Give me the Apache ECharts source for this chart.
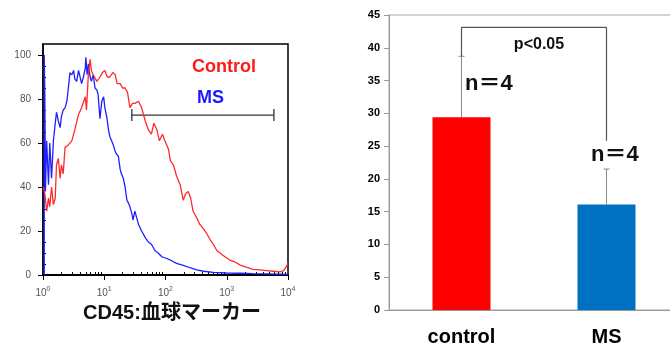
<!DOCTYPE html>
<html>
<head>
<meta charset="utf-8">
<script src="https://cdn.jsdelivr.net/npm/echarts@6/dist/echarts.min.js"></script>
<style>
  html, body { margin: 0; padding: 0; background: #fff; }
  #chart { width: 670px; height: 353px; }
</style>
</head>
<body>
<div id="chart"></div>
<script>
// ---- left panel: CD45 histogram (x = log10 intensity) ----
const redLog = [
  0.00, 0.03, 0.06, 0.09, 0.11, 0.14, 0.17, 0.20, 0.22, 0.25,
  0.28, 0.30, 0.33, 0.36, 0.41, 0.47, 0.52, 0.58, 0.63, 0.69,
  0.71, 0.74, 0.77, 0.79, 0.82, 0.88, 0.93, 0.97, 1.01, 1.05,
  1.09, 1.14, 1.18, 1.21, 1.26, 1.30, 1.34, 1.38, 1.42, 1.46,
  1.50, 1.56, 1.61, 1.67, 1.72, 1.77, 1.81, 1.86, 1.90, 1.95,
  1.99, 2.05, 2.08, 2.13, 2.18, 2.24, 2.29, 2.33, 2.37, 2.41,
  2.45, 2.51, 2.56, 2.62, 2.67, 2.73, 2.78, 2.84, 2.89, 2.97,
  3.05, 3.13, 3.22, 3.33, 3.43, 3.54, 3.65, 3.76, 3.87, 3.93,
  3.98, 4.00
];
const redCount = [
  40, 37, 29, 35, 31, 40, 32, 35, 50, 53,
  44, 50, 46, 58, 59, 61, 66, 73, 76, 81,
  75, 91, 98, 93, 91, 88, 90, 92, 93, 90,
  90, 92, 91, 87, 87, 85, 85, 83, 76, 78,
  78, 79, 76, 70, 66, 64, 69, 66, 61, 64,
  61, 57, 52, 50, 45, 41, 34, 37, 38, 35,
  29, 26, 23, 21, 19, 16, 14, 11, 10, 8.3,
  6.8, 6.0, 4.5, 3.5, 2.6, 2.3, 2.0, 1.7, 1.4, 2.0,
  4.1, 5.5
];
const blueLog = [
  0.02, 0.02, 0.03, 0.04, 0.06, 0.09, 0.11, 0.14, 0.17, 0.20,
  0.22, 0.25, 0.28, 0.30, 0.33, 0.36, 0.39, 0.41, 0.44, 0.47,
  0.50, 0.52, 0.55, 0.58, 0.60, 0.63, 0.66, 0.69, 0.70, 0.72,
  0.74, 0.77, 0.79, 0.82, 0.85, 0.88, 0.90, 0.93, 0.96, 0.99,
  1.01, 1.04, 1.07, 1.09, 1.12, 1.15, 1.18, 1.20, 1.23, 1.26,
  1.28, 1.31, 1.34, 1.37, 1.39, 1.42, 1.45, 1.47, 1.50, 1.53,
  1.56, 1.61, 1.67, 1.72, 1.77, 1.83, 1.88, 1.94, 2.02, 2.10,
  2.18, 2.29, 2.40, 2.51, 2.62, 2.78, 3.00, 3.22, 3.43, 3.65,
  4.00
];
const blueCount = [
  0, 100, 82, 38, 61, 41, 60, 44, 61, 69,
  74, 70, 67, 72, 75, 76, 79, 84, 92, 91,
  93, 89, 88, 93, 93, 87, 90, 94, 99, 91,
  96, 90, 88, 91, 85, 84, 82, 71, 79, 81,
  76, 72, 66, 63, 61, 59, 56, 55, 54, 48,
  46, 44, 40, 34, 33, 31, 28, 25, 29, 26,
  23, 20, 17, 15, 14, 11, 10, 8.3, 7.5, 6.5,
  5.3, 4.4, 3.3, 2.3, 1.7, 1.2, 0.9, 0.8, 0.6, 0.5,
  0.3
];
const gateRange = [1.45, 3.77];   // log10 limits of the gate bar
const gateLevel = 72.7;
const histYTicks = [0, 20, 40, 60, 80, 100];

// ---- right panel: bar chart ----
const groups = ['control', 'MS'];
const means = [29.4, 16.1];
const errs = [9.3, 5.4];
const bracketTop = 43.1;
const bracketEnds = [38.7, 25.8];

const FONT = "'Liberation Sans', 'Noto Sans CJK JP', sans-serif";

// minor ticks (2..9 per decade, every 5 counts)
const logMinor = [];
for (let d = 0; d < 4; d++) {
  for (let k = 2; k <= 9; k++) logMinor.push(d + Math.log10(k));
}
const countMinor = [];
for (let v = 5; v < 105; v += 5) if (v % 20 !== 0) countMinor.push(v);

const zip = (a, b) => a.map((v, i) => [v, b[i]]);

let chart = echarts.init(document.getElementById('chart'));
chart.setOption({
  animation: false,
  textStyle: { fontFamily: FONT },
  grid: [
    { left: 43, top: 44, width: 245, height: 231, outerBoundsMode: 'none',
      show: true, borderColor: '#000', borderWidth: 1.5 },
    { left: 389, top: 15, width: 290, height: 295, outerBoundsMode: 'none',
      show: true, borderColor: '#a6a6a6', borderWidth: 1 }
  ],
  xAxis: [
    {
      gridIndex: 0, type: 'value', min: 0, max: 4, interval: 1,
      axisLine: { lineStyle: { color: '#000', width: 2 } },
      axisTick: { length: 5, lineStyle: { color: '#000' } },
      splitLine: { show: false },
      axisLabel: {
        margin: 11, color: '#555',
        formatter: v => '{b|10}{s|' + v + '}',
        rich: {
          b: { fontSize: 10, color: '#555', lineHeight: 14 },
          s: { fontSize: 7, color: '#555', verticalAlign: 'top', lineHeight: 8 }
        }
      }
    },
    {
      gridIndex: 0, type: 'value', min: 0, max: 4,
      axisLine: { show: false },
      axisTick: { length: 3, customValues: logMinor, lineStyle: { color: '#000' } },
      axisLabel: { show: false },
      splitLine: { show: false }
    },
    {
      gridIndex: 1, type: 'category', data: groups,
      axisLine: { lineStyle: { color: '#999' } },
      axisTick: { length: 5, lineStyle: { color: '#999' } },
      axisLabel: { margin: 17, color: '#000', fontSize: 20, fontWeight: 'bold' }
    }
  ],
  yAxis: [
    {
      gridIndex: 0, type: 'value', min: 0, max: 105,
      axisLine: { show: true, lineStyle: { color: '#000', width: 1.5 } },
      axisTick: { show: true, length: 5, customValues: histYTicks, lineStyle: { color: '#000' } },
      axisLabel: { customValues: histYTicks, margin: 12, color: '#555', fontSize: 10 },
      splitLine: { show: false }
    },
    {
      gridIndex: 0, type: 'value', min: 0, max: 105,
      axisLine: { show: false },
      axisTick: { show: true, length: 3, customValues: countMinor, lineStyle: { color: '#000' } },
      axisLabel: { show: false },
      splitLine: { show: false }
    },
    {
      gridIndex: 1, type: 'value', min: 0, max: 45, interval: 5,
      axisLine: { show: true, lineStyle: { color: '#999' } },
      axisTick: { show: true, length: 5, lineStyle: { color: '#999' } },
      axisLabel: { margin: 9, color: '#000', fontSize: 11, fontWeight: 'bold' },
      splitLine: { show: false }
    }
  ],
  series: [
    {
      name: 'MS', type: 'line', xAxisIndex: 0, yAxisIndex: 0,
      data: zip(blueLog, blueCount), symbol: 'none', clip: true,
      lineStyle: { color: '#1f1fff', width: 1.3 }
    },
    {
      name: 'Control', type: 'line', xAxisIndex: 0, yAxisIndex: 0,
      data: zip(redLog, redCount), symbol: 'none', clip: true,
      lineStyle: { color: '#ff2a2a', width: 1.3 }
    },
    {
      name: 'gate', type: 'custom', xAxisIndex: 0, yAxisIndex: 0,
      data: [[gateRange[0], gateRange[1], gateLevel]],
      renderItem: (params, api) => {
        const a = api.coord([api.value(0), api.value(2)]);
        const b = api.coord([api.value(1), api.value(2)]);
        const st = { stroke: '#333', lineWidth: 1.3 };
        return {
          type: 'group',
          children: [
            { type: 'line', shape: { x1: a[0], y1: a[1], x2: b[0], y2: b[1] }, style: st },
            { type: 'line', shape: { x1: a[0], y1: a[1] - 6, x2: a[0], y2: a[1] + 6 }, style: st },
            { type: 'line', shape: { x1: b[0], y1: b[1] - 6, x2: b[0], y2: b[1] + 6 }, style: st }
          ]
        };
      }
    },
    {
      name: 'bars', type: 'bar', xAxisIndex: 2, yAxisIndex: 2,
      barWidth: '40%',
      data: [
        { value: means[0], itemStyle: { color: '#ff0000' } },
        { value: means[1], itemStyle: { color: '#0070c0' } }
      ]
    },
    {
      name: 'err', type: 'custom', xAxisIndex: 2, yAxisIndex: 2, z: 3,
      data: means.map((m, i) => [i, m, m + errs[i]]),
      renderItem: (params, api) => {
        const lo = api.coord([api.value(0), api.value(1)]);
        const hi = api.coord([api.value(0), api.value(2)]);
        const st = { stroke: '#888', lineWidth: 1 };
        return {
          type: 'group',
          children: [
            { type: 'line', shape: { x1: lo[0], y1: lo[1], x2: hi[0], y2: hi[1] }, style: st },
            { type: 'line', shape: { x1: hi[0] - 3, y1: hi[1], x2: hi[0] + 3, y2: hi[1] }, style: st }
          ]
        };
      }
    },
    {
      name: 'bracket', type: 'line', xAxisIndex: 2, yAxisIndex: 2, z: 3,
      data: [[0, bracketEnds[0]], [0, bracketTop], [1, bracketTop], [1, bracketEnds[1]]],
      symbol: 'none',
      lineStyle: { color: '#555', width: 1.2 }
    }
  ],
  graphic: [
    { type: 'text', x: 172, y: 313, style: { text: 'CD45:血球マーカー', fontFamily: FONT, fontSize: 20, fontWeight: 'bold', fill: '#111', align: 'center', verticalAlign: 'middle' } },
    { type: 'text', x: 192, y: 67, style: { text: 'Control', fontFamily: FONT, fontSize: 18, fontWeight: 'bold', fill: '#ff1a1a', verticalAlign: 'middle' } },
    { type: 'text', x: 197, y: 98, style: { text: 'MS', fontFamily: FONT, fontSize: 18, fontWeight: 'bold', fill: '#1a1aff', verticalAlign: 'middle' } },
    { type: 'text', x: 539, y: 45, style: { text: 'p<0.05', fontFamily: FONT, fontSize: 16, fontWeight: 'bold', fill: '#111', align: 'center', verticalAlign: 'middle' } },
    { type: 'text', x: 465, y: 84, style: { text: 'n＝4', fontFamily: FONT, fontSize: 22, fontWeight: 'bold', fill: '#111', verticalAlign: 'middle' } },
    { type: 'text', x: 591, y: 155, style: { text: 'n＝4', fontFamily: FONT, fontSize: 22, fontWeight: 'bold', fill: '#111', verticalAlign: 'middle' } }
  ]
});
</script>
</body>
</html>
